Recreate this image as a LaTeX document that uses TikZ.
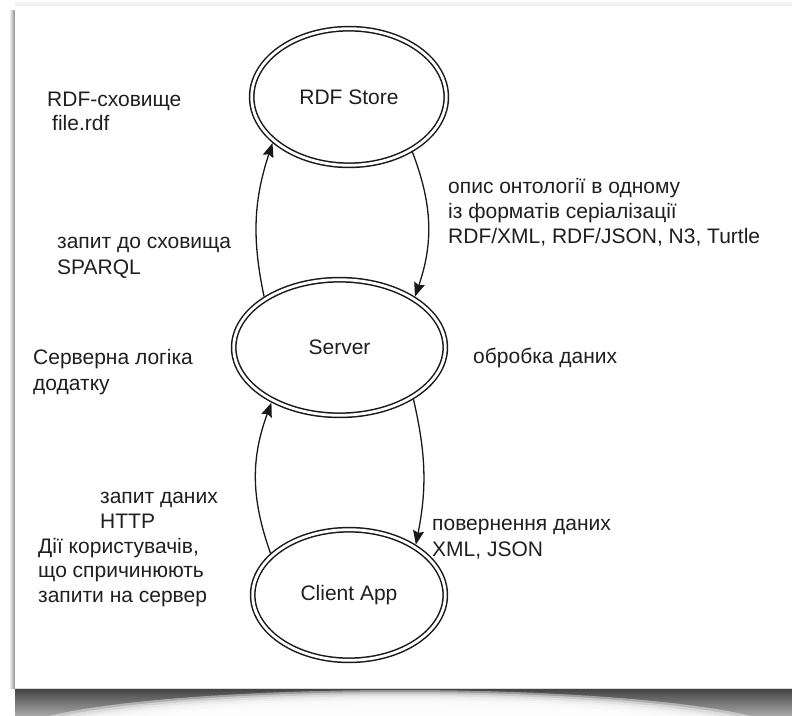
\documentclass[tikz,border=0pt]{standalone}
\usepackage{fontspec}
\setmainfont{Liberation Sans}
\usetikzlibrary{shapes.geometric,arrows.meta}
\begin{document}
\begin{tikzpicture}[x=1pt,y=-1pt,
  state/.style={ellipse, draw=black!90, line width=1.5pt, double=white, double distance=2.8pt,
    inner sep=0pt, outer sep=2.9pt, text=black!88, font=\fontsize{21}{25}\selectfont},
  lbl/.style={anchor=base west, inner sep=0pt, align=left, text=black!88},
  link/.style={draw=black!90, line width=1.3pt, -{Stealth[length=14pt,width=11pt,inset=2pt]}}]
\useasboundingbox (0,0) rectangle (792,715);
% card and its shadow
\fill[white] (0,0) rectangle (792,715);
\shade[top color=white, bottom color=black!8] (15,0) rectangle (792,6);
\shade[left color=white, right color=black!45] (9,10) rectangle (15,688);
\begin{scope}
  \clip (15,688) rectangle (792,715);
  \shade[top color=black!75, bottom color=black!35] (15,688) rectangle (792,715);
  \foreach \k in {0,...,7}
    \fill[white, opacity=0.42] (400,736) ellipse [x radius={390-12*\k}, y radius={46-2*\k}];
\end{scope}
\fill[white] (15,6) rectangle (792,688);
\draw[black!15, line width=1pt] (15,688.5) -- (792,688.5);

% states
\node[state, minimum width=194.6pt, minimum height=136.6pt] (rdf) at (349,97) {RDF Store};
\node[state, minimum width=211.6pt, minimum height=135.6pt] (srv) at (339.5,347.5) {Server};
\node[state, minimum width=192.6pt, minimum height=130.6pt] (cli) at (349,595) {Client App};

% connectors
\draw[link] (srv.146) to[bend left=15] (rdf.211);
\draw[link] (rdf.-41) to[bend left=20] (srv.34);
\draw[link] (cli.152) to[bend left=20] (srv.219);
\draw[link] (srv.-35) to[bend left=12] (cli.37);

% labels (anchored at the baseline of their last line)
\node[lbl, font=\fontsize{21}{24}\selectfont] (l1) at (47,130) {RDF-сховище\\\hspace*{5pt}file.rdf};
\node[lbl, font=\fontsize{21}{26}\selectfont] (l2) at (57,274) {запит до сховища\\SPARQL};
\node[lbl, font=\fontsize{21}{26}\selectfont] (l3) at (33,390) {Серверна логіка\\додатку};
\node[lbl, font=\fontsize{21}{25}\selectfont] (l4) at (100,528) {запит даних\\HTTP};
\node[lbl, font=\fontsize{21}{24.5}\selectfont] (l5) at (38,602) {Дії користувачів,\\що спричинюють\\запити на сервер};
\node[lbl, font=\fontsize{21}{25}\selectfont] (l6) at (448,243) {опис онтології в одному\\із форматів серіалізації\\RDF/XML, RDF/JSON, N3, Turtle};
\node[lbl, font=\fontsize{21}{25}\selectfont] (l7) at (473,363) {обробка даних};
\node[lbl, font=\fontsize{21}{26}\selectfont] (l8) at (432,556) {повернення даних\\XML, JSON};
\end{tikzpicture}
\end{document}
